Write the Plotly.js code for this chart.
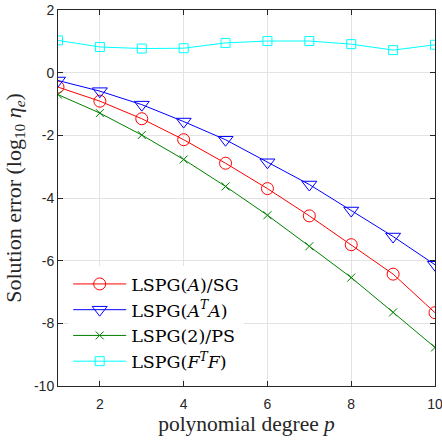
<!DOCTYPE html>
<html>
<head>
<meta charset="utf-8">
<script src="https://cdn.plot.ly/plotly-3.0.1.min.js"></script>
<style>html,body{margin:0;padding:0;background:#fff;}#chart{width:442px;height:440px;}</style>
</head>
<body>
<div id="chart"></div>
<script>
const degrees = [1, 2, 3, 4, 5, 6, 7, 8, 9, 10];
const lspgA_SG = [-0.46, -0.91, -1.47, -2.14, -2.89, -3.70, -4.57, -5.49, -6.43, -7.66];
const lspgATA = [-0.25, -0.59, -1.02, -1.56, -2.14, -2.86, -3.57, -4.40, -5.23, -6.13];
const lspg2_PS = [-0.70, -1.29, -1.99, -2.77, -3.63, -4.55, -5.54, -6.54, -7.65, -8.77];
const lspgFTF = [1.03, 0.82, 0.77, 0.78, 0.95, 1.01, 1.01, 0.91, 0.72, 0.89];
const seriesNames = [
  "LSPG(<i>A</i>)/SG",
  "LSPG(<i>A</i><sup><i>T</i></sup><i>A</i>)",
  "LSPG(2)/PS",
  "LSPG(<i>F</i><sup><i>T</i></sup><i>F</i>)"
];
const xTicks = [2, 4, 6, 8, 10];
const yTicks = [-10, -8, -6, -4, -2, 0, 2];

const serif = "Liberation Serif, Times New Roman, serif";
const sans = "Liberation Sans, Arial, sans-serif";

const traces = [
  {x: degrees, y: lspgA_SG, name: seriesNames[0], mode: "lines+markers",
   line: {color: "#ff0000", width: 1}, marker: {symbol: "circle-open", size: 12, color: "#ff0000", line: {width: 1}}},
  {x: degrees, y: lspgATA, name: seriesNames[1], mode: "lines+markers",
   line: {color: "#0000ff", width: 1}, marker: {symbol: "triangle-down-open", size: 13, color: "#0000ff", line: {width: 1}}},
  {x: degrees, y: lspg2_PS, name: seriesNames[2], mode: "lines+markers",
   line: {color: "#008000", width: 1}, marker: {symbol: "x-thin-open", size: 8, color: "#008000", line: {width: 1, color: "#008000"}}},
  {x: degrees, y: lspgFTF, name: seriesNames[3], mode: "lines+markers",
   line: {color: "#00ffff", width: 1}, marker: {symbol: "square-open", size: 9, color: "#00ffff", line: {width: 1}}}
];

const axisCommon = {
  showline: true, mirror: "ticks", linecolor: "#262626", linewidth: 1,
  ticks: "inside", ticklen: 5, tickwidth: 1, tickcolor: "#262626",
  showgrid: true, gridcolor: "#e3e3e3", gridwidth: 1, zeroline: false,
  tickfont: {family: sans, size: 14, color: "#262626"},
  ticklabeloverflow: "allow"
};

const layout = {
  width: 442, height: 440,
  margin: {l: 58, r: 7, t: 10, b: 54},
  paper_bgcolor: "#ffffff", plot_bgcolor: "#ffffff",
  showlegend: true,
  xaxis: Object.assign({}, axisCommon, {
    range: [1, 10], tickvals: xTicks, ticktext: xTicks.map(String),
    ticklabelstandoff: 5,
    title: {text: "polynomial degree <i>p</i>", font: {family: serif, size: 21.5, color: "#262626"}, standoff: 2}
  }),
  yaxis: Object.assign({}, axisCommon, {
    range: [-10, 2], tickvals: yTicks, ticktext: yTicks.map(String),
    title: {text: "Solution error (log<sub>10</sub> <i>η<sub>e</sub></i>)", font: {family: serif, size: 22, color: "#262626"}, standoff: 6}
  }),
  legend: {
    x: 0.027, y: 0.319, xanchor: "left", yanchor: "top",
    bgcolor: "#ffffff", borderwidth: 0,
    font: {family: "DejaVu Serif, serif", size: 17.5, color: "#000000"},
    itemwidth: 53, tracegroupgap: 0
  }
};

Plotly.newPlot("chart", traces, layout, {displayModeBar: false, staticPlot: true});
</script>
</body>
</html>
